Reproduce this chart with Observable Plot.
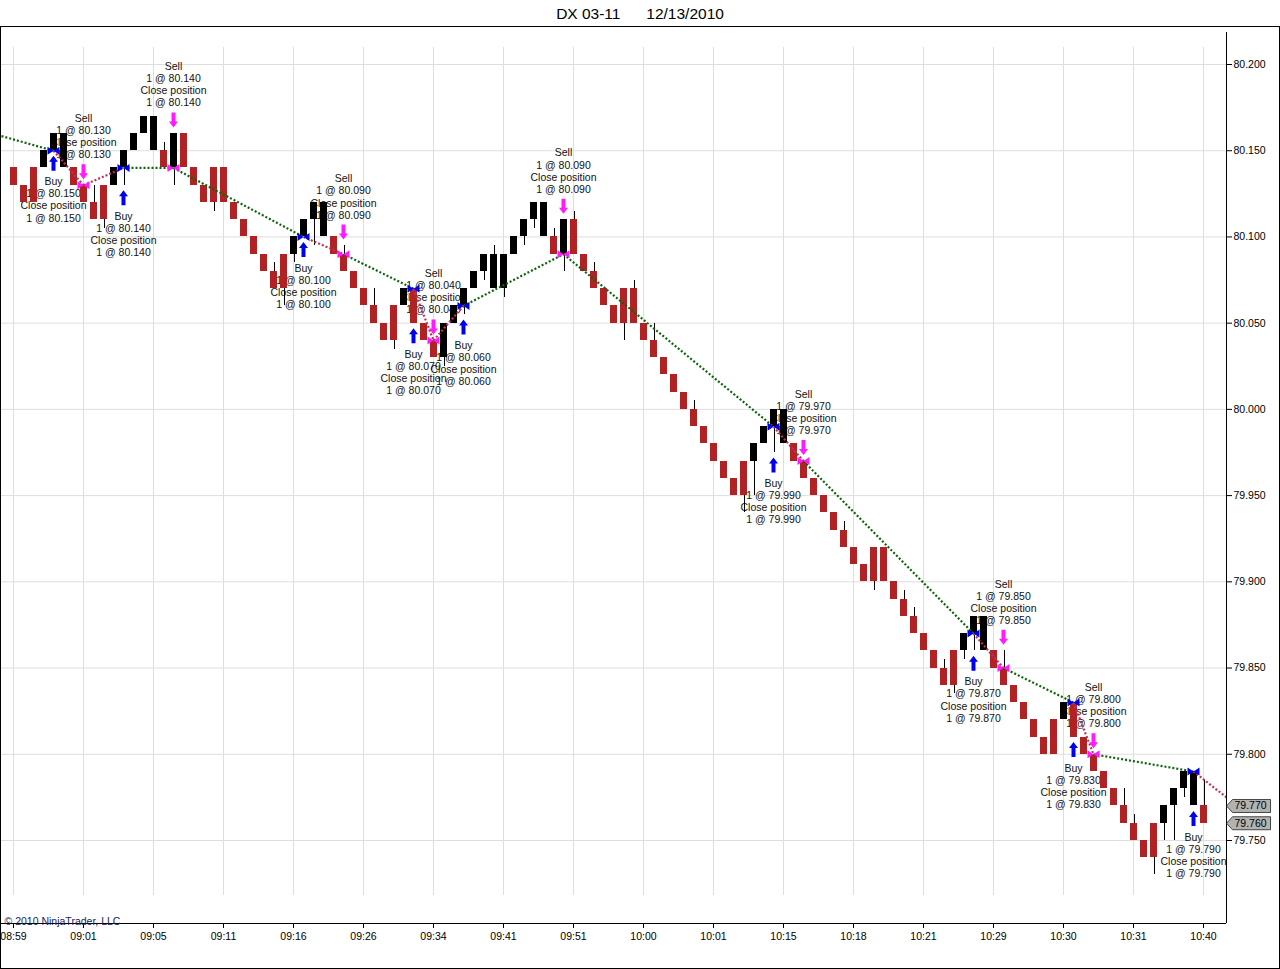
<!DOCTYPE html>
<html><head><meta charset="utf-8">
<script src="https://cdn.jsdelivr.net/npm/d3@7"></script>
<script src="https://cdn.jsdelivr.net/npm/@observablehq/plot@0.6"></script>
<style>
html,body{margin:0;padding:0;background:#fff;}
body{width:1280px;height:969px;position:relative;overflow:hidden;font-family:"Liberation Sans",Arial,sans-serif;}
#title{position:absolute;left:0;top:0;width:1280px;height:26px;line-height:27px;text-align:center;font-size:15.5px;white-space:pre;color:#000;}
#frame{position:absolute;left:0;top:26px;width:1278px;height:941px;border:1px solid #000;}
#frame svg{display:block;}
</style></head><body>
<div id="title">DX 03-11      12/13/2010</div>
<div id="frame"></div>
<script>
// ---- data ----
const opens = [80.14,80.13,80.14,80.14,80.15,80.14,80.14,80.13,80.12,80.13,
80.13,80.14,80.15,80.16,80.15,80.15,80.14,80.16,80.14,80.13,
80.14,80.14,80.12,80.11,80.10,80.09,80.08,80.09,80.09,80.10,
80.11,80.10,80.10,80.09,80.08,80.07,80.06,80.05,80.06,80.06,
80.07,80.05,80.04,80.03,80.05,80.06,80.07,80.08,80.07,80.07,
80.09,80.10,80.11,80.10,80.10,80.09,80.11,80.09,80.08,80.07,
80.06,80.07,80.07,80.05,80.04,80.03,80.02,80.01,80.00,79.99,
79.98,79.97,79.96,79.97,79.97,79.98,79.99,79.98,79.98,79.97,
79.96,79.95,79.94,79.93,79.92,79.91,79.92,79.92,79.90,79.89,
79.88,79.87,79.86,79.85,79.86,79.86,79.87,79.86,79.86,79.85,
79.84,79.83,79.82,79.81,79.82,79.82,79.83,79.81,79.80,79.79,
79.78,79.77,79.76,79.75,79.76,79.76,79.77,79.78,79.77,79.77];
const closes = [80.13,80.12,80.12,80.15,80.16,80.16,80.13,80.12,80.11,80.11,
80.14,80.15,80.16,80.17,80.17,80.14,80.16,80.14,80.13,80.12,
80.12,80.12,80.11,80.10,80.09,80.08,80.07,80.07,80.10,80.11,
80.12,80.12,80.09,80.08,80.07,80.06,80.05,80.04,80.04,80.07,
80.05,80.04,80.03,80.05,80.06,80.07,80.08,80.09,80.09,80.09,
80.10,80.11,80.12,80.12,80.09,80.11,80.09,80.08,80.07,80.06,
80.05,80.05,80.05,80.04,80.03,80.02,80.01,80.00,79.99,79.98,
79.97,79.96,79.95,79.95,79.98,79.99,80.00,80.00,79.97,79.96,
79.95,79.94,79.93,79.92,79.91,79.90,79.90,79.90,79.89,79.88,
79.87,79.86,79.85,79.84,79.84,79.87,79.88,79.88,79.85,79.84,
79.83,79.82,79.81,79.80,79.80,79.83,79.81,79.80,79.79,79.78,
79.77,79.76,79.75,79.74,79.74,79.77,79.78,79.79,79.79,79.76];
const upperWicks = [[8,80.13],[15,80.155],[26,80.085],[33,80.095],[36,80.07],[48,80.095],[54,80.105],[56,80.115],
[58,80.085],[62,80.075],[64,80.05],[68,80.005],[83,79.935],[89,79.895],[90,79.885],[93,79.855],[99,79.86],
[111,79.78],[112,79.765],[119,79.785]];
const lowerWicks = [[9,80.105],[11,80.13],[16,80.13],[20,80.115],[27,80.06],[28,80.085],[30,80.095],[38,80.035],
[43,80.025],[45,80.055],[47,80.075],[49,80.065],[51,80.095],[52,80.105],[55,80.08],[61,80.04],[73,79.94],
[74,79.95],[76,79.975],[86,79.895],[94,79.835],[95,79.855],[96,79.86],[114,79.73],[115,79.75],[116,79.75],[117,79.775]];
const buyBars   = [4, 11, 29, 40, 45, 76, 96, 106, 118];
const buyPrices = [80.15, 80.14, 80.10, 80.07, 80.06, 79.99, 79.87, 79.83, 79.79];
const sellBars   = [7, 16, 33, 42, 55, 79, 99, 108];
const sellPrices = [80.13, 80.14, 80.09, 80.04, 80.09, 79.97, 79.85, 79.80];
const priorEntry = {bar: -1.2, price: 80.1585, side: "sell"};
const markPrice = {bar: 121.3, price: 79.775};
const lastPrices = [79.77, 79.76];
const xTickBars = [0,7,14,21,28,35,42,49,56,63,70,77,84,91,98,105,112,119];
const xLabels = ["08:59","09:01","09:05","09:11","09:16","09:26","09:34","09:41","09:51",
"10:00","10:01","10:15","10:18","10:21","10:29","10:30","10:31","10:40"];
const yTicks = [79.75,79.80,79.85,79.90,79.95,80.00,80.05,80.10,80.15,80.20];

// ---- derived tables ----
const xDomain = [-1.2, 121.3];
const yDomain = [79.70186, 80.21856];
const gridTop = 80.2099, gridBottom = 79.7181;
const hiMap = new Map(upperWicks), loMap = new Map(lowerWicks);
const bars = opens.map((o, i) => {
  const c = closes[i];
  return {i, open: o, close: c,
    high: hiMap.has(i) ? hiMap.get(i) : Math.max(o, c),
    low: loMap.has(i) ? loMap.get(i) : Math.min(o, c)};
});
const fmt = d3.format(".3f");
const buys = buyBars.map((b, k) => ({i: b, price: buyPrices[k], side: "buy", low: bars[b].low, high: bars[b].high}));
const sells = sellBars.map((b, k) => ({i: b, price: sellPrices[k], side: "sell", low: bars[b].low, high: bars[b].high}));
const trades = [...buys, ...sells].sort((a, b) => a.i - b.i);
const pts = [{i: priorEntry.bar, price: priorEntry.price, side: priorEntry.side}, ...trades, {i: markPrice.bar, price: markPrice.price}];
const GREEN = "#0b650b", RED = "#c23058", BLUE = "#0000f0", MAGENTA = "#ff1aff", CANDLE_RED = "#b02224";
const segments = [];
for (let k = 0; k < pts.length - 1; k++) {
  const a = pts[k], b = pts[k + 1];
  const profit = a.side === "buy" ? b.price - a.price : a.price - b.price;
  segments.push({x1: a.i, y1: a.price, x2: b.i, y2: b.price, color: profit >= -1e-9 ? GREEN : RED});
}

// ---- symbols ----
const arrowUp = {draw(ctx) {
  ctx.moveTo(0, -7.5); ctx.lineTo(4.5, -1.5); ctx.lineTo(2, -1.5); ctx.lineTo(2, 7.5);
  ctx.lineTo(-2, 7.5); ctx.lineTo(-2, -1.5); ctx.lineTo(-4.5, -1.5); ctx.closePath();
}};
const arrowDown = {draw(ctx) {
  ctx.moveTo(0, 7.5); ctx.lineTo(4.5, 1.5); ctx.lineTo(2, 1.5); ctx.lineTo(2, -7.5);
  ctx.lineTo(-2, -7.5); ctx.lineTo(-2, 1.5); ctx.lineTo(-4.5, 1.5); ctx.closePath();
}};
const bowtie = {draw(ctx) {
  ctx.moveTo(-6, -4); ctx.lineTo(0, 0); ctx.lineTo(-6, 4); ctx.closePath();
  ctx.moveTo(6, -4); ctx.lineTo(0, 0); ctx.lineTo(6, 4); ctx.closePath();
}};
const tag = {draw(ctx) {
  ctx.moveTo(0, 0); ctx.lineTo(6, -6.5); ctx.lineTo(44, -6.5); ctx.lineTo(44, 6.5); ctx.lineTo(6, 6.5); ctx.closePath();
}};

const font = '"Liberation Sans", Arial, sans-serif';
const chart = Plot.plot({
  width: 1278, height: 941,
  marginLeft: 0, marginRight: 53, marginTop: 5, marginBottom: 45,
  x: {type: "linear", domain: xDomain, axis: null},
  y: {type: "linear", domain: yDomain, axis: null},
  color: {type: "identity"},
  style: {fontFamily: font, fontSize: "10.5px", color: "#000", background: "transparent", overflow: "visible"},
  marks: [
    Plot.ruleY(yTicks, {stroke: "#dedede", strokeWidth: 1}),
    Plot.ruleX(xTickBars, {y1: gridTop, y2: gridBottom, stroke: "#dedede", strokeWidth: 1}),
    // trade labels (behind candles)
    Plot.text(buys, {x: "i", y: "low", dy: 26, lineAnchor: "top", lineHeight: 1.15, fontSize: 10.5, fill: "#111",
      text: d => `Buy\n1 @ ${fmt(d.price)}\nClose position\n1 @ ${fmt(d.price)}`}),
    Plot.text(sells, {x: "i", y: "high", dy: -27, lineAnchor: "bottom", lineHeight: 1.15, fontSize: 10.5, fill: "#111",
      text: d => `Sell\n1 @ ${fmt(d.price)}\nClose position\n1 @ ${fmt(d.price)}`}),
    // candles
    Plot.ruleX(bars, {x: d => d.i + 0.05, y1: "low", y2: "high", stroke: "#000", strokeWidth: 1, shapeRendering: "crispEdges"}),
    Plot.rect(bars, {x1: d => d.i - 0.3, x2: d => d.i + 0.4, y1: "open", y2: "close",
      fill: d => d.close > d.open ? "#000" : CANDLE_RED, shapeRendering: "crispEdges"}),
    // trade path
    Plot.link(segments, {x1: "x1", y1: "y1", x2: "x2", y2: "y2", stroke: "color", strokeWidth: 2.2, strokeDasharray: "2,2", clip: true}),
    // execution markers
    Plot.dot(buys, {x: "i", y: "price", symbol: bowtie, fill: BLUE, r: 4}),
    Plot.dot(sells, {x: "i", y: "price", symbol: bowtie, fill: MAGENTA, r: 4}),
    Plot.dot(buys, {x: "i", y: "low", dy: 12.5, symbol: arrowUp, fill: BLUE, r: 4}),
    Plot.dot(sells, {x: "i", y: "high", dy: -13.5, symbol: arrowDown, fill: MAGENTA, r: 4}),
    // axes
    Plot.ruleX([xDomain[1]], {stroke: "#000", strokeWidth: 1}),
    Plot.ruleY([yDomain[0]], {stroke: "#000", strokeWidth: 1}),
    Plot.axisY(yTicks, {anchor: "right", tickSize: 5, tickPadding: 2, tickFormat: fmt, fontSize: 10.5, stroke: "#000", fill: "#000"}),
    Plot.axisX(xTickBars, {anchor: "bottom", tickSize: 5, tickPadding: 4, fontSize: 10.5, stroke: "#000", fill: "#000",
      tickFormat: d => xLabels[xTickBars.indexOf(d)]}),
    // last price tags
    Plot.dot(lastPrices, {y: d => d, frameAnchor: "right", symbol: tag, fill: "#b2b2b2", stroke: "#222", strokeWidth: 0.8, r: 4}),
    Plot.text(lastPrices, {y: d => d, frameAnchor: "right", dx: 8, textAnchor: "start", text: d => fmt(d), fontSize: 10.5, fill: "#000"}),
    Plot.text(["\u00a9 2010 NinjaTrader, LLC"], {frameAnchor: "bottom-left", textAnchor: "start", lineAnchor: "bottom",
      dx: 3, dy: 1, fontSize: 10.5, fill: "#22225a"})
  ]
});
document.getElementById("frame").appendChild(chart);
</script></body></html>
